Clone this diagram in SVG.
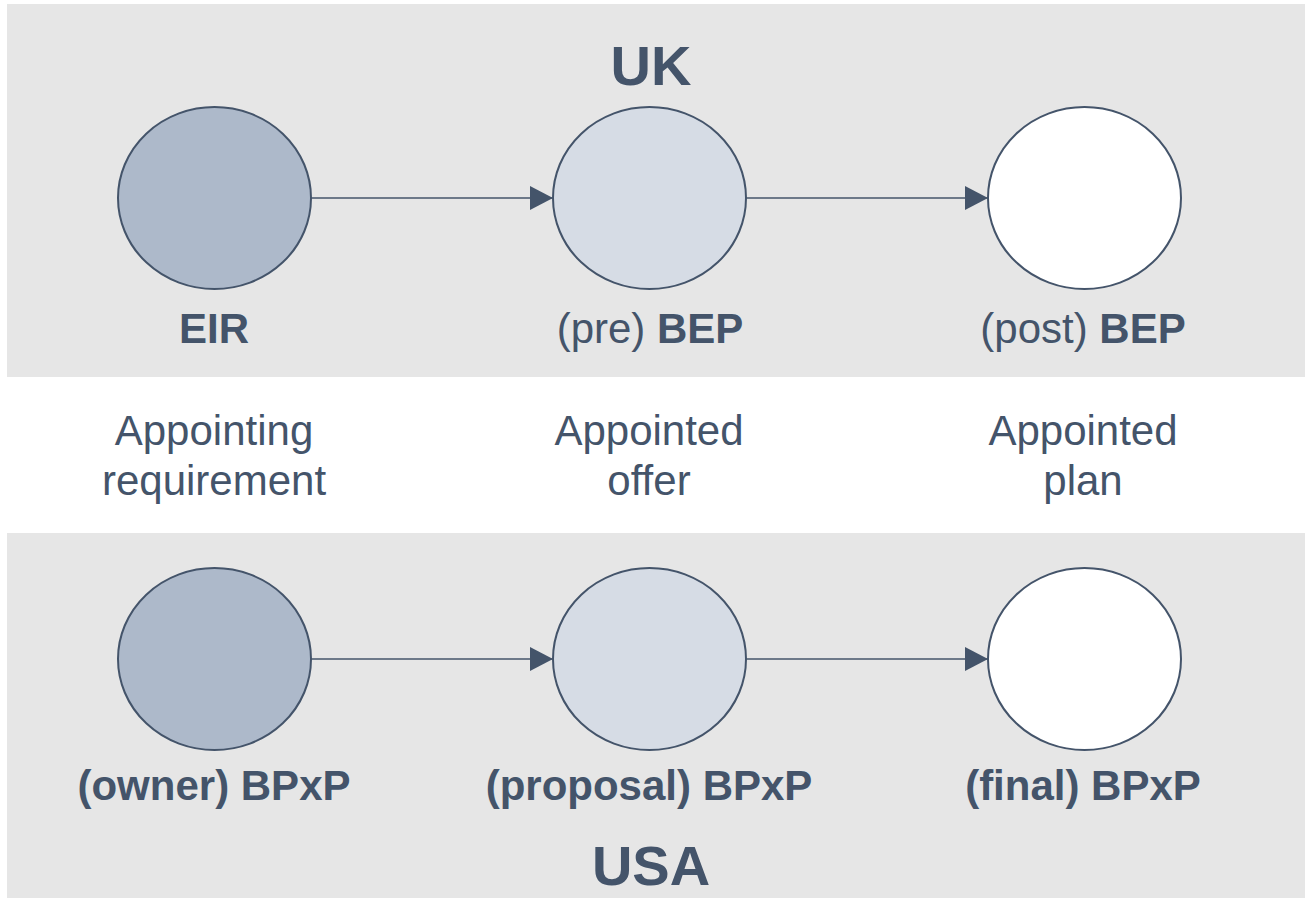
<svg xmlns="http://www.w3.org/2000/svg" width="1305" height="901" viewBox="0 0 1305 901">
  <style>
    .band { fill: #e6e6e6; }
    .node { stroke: #44546a; stroke-width: 2; }
    .dark { fill: #adb9ca; }
    .light { fill: #d6dce5; }
    .white { fill: #ffffff; }
    .edge { stroke: #44546a; stroke-width: 1.5; fill: none; marker-end: url(#arrow); }
    text { font-family: "Liberation Sans", Arial, sans-serif; fill: #44546a; text-anchor: middle; }
    .title { font-size: 56px; font-weight: bold; }
    .label { font-size: 42px; }
    .b { font-weight: bold; }
  </style>
  <defs>
    <marker id="arrow" markerUnits="userSpaceOnUse" markerWidth="24" markerHeight="24" refX="23" refY="12" orient="auto">
      <path d="M0,0 L23,12 L0,24 Z" fill="#44546a"/>
    </marker>
  </defs>

  <rect width="1305" height="901" fill="#ffffff"/>
  <rect class="band" x="7" y="4" width="1298" height="373"/>
  <rect class="band" x="7" y="533" width="1298" height="365"/>

  <text class="title" x="651" y="85">UK</text>
  <text class="title" x="651" y="885">USA</text>

  <g id="connectors">
    <line class="edge" x1="311" y1="198" x2="553" y2="198"/>
    <line class="edge" x1="746" y1="198" x2="988" y2="198"/>
    <line class="edge" x1="311" y1="659" x2="553" y2="659"/>
    <line class="edge" x1="746" y1="659" x2="988" y2="659"/>
  </g>

  <g id="uk-eir">
    <ellipse class="node dark" cx="214.5" cy="198" rx="96.5" ry="91"/>
    <text class="label b" x="214" y="343">EIR</text>
  </g>
  <g id="uk-pre-bep">
    <ellipse class="node light" cx="649.5" cy="198" rx="96.5" ry="91"/>
    <text class="label" x="650" y="343">(pre) <tspan class="b">BEP</tspan></text>
  </g>
  <g id="uk-post-bep">
    <ellipse class="node white" cx="1084.5" cy="198" rx="96.5" ry="91"/>
    <text class="label" x="1083" y="343">(post) <tspan class="b">BEP</tspan></text>
  </g>

  <g id="role-requirement">
    <text class="label" x="214" y="445">Appointing</text>
    <text class="label" x="214" y="495">requirement</text>
  </g>
  <g id="role-offer">
    <text class="label" x="649" y="445">Appointed</text>
    <text class="label" x="649" y="495">offer</text>
  </g>
  <g id="role-plan">
    <text class="label" x="1083" y="445">Appointed</text>
    <text class="label" x="1083" y="495">plan</text>
  </g>

  <g id="usa-owner">
    <ellipse class="node dark" cx="214.5" cy="659" rx="96.5" ry="91"/>
    <text class="label b" x="214" y="800">(owner) BPxP</text>
  </g>
  <g id="usa-proposal">
    <ellipse class="node light" cx="649.5" cy="659" rx="96.5" ry="91"/>
    <text class="label b" x="649" y="800">(proposal) BPxP</text>
  </g>
  <g id="usa-final">
    <ellipse class="node white" cx="1084.5" cy="659" rx="96.5" ry="91"/>
    <text class="label b" x="1083" y="800">(final) BPxP</text>
  </g>
</svg>
